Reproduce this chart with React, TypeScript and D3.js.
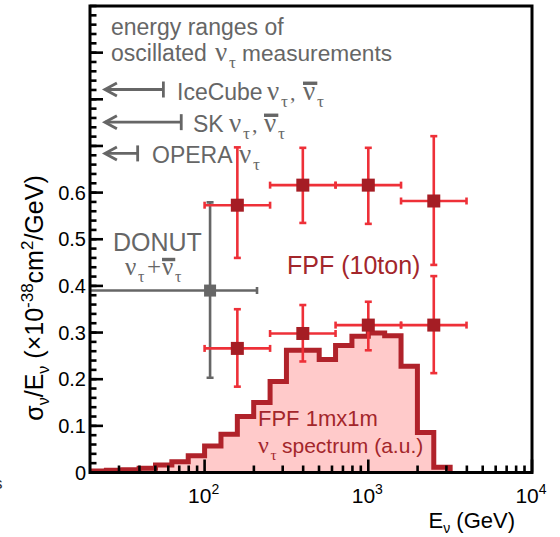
import React from "react";
import * as d3 from "d3";

// ---------- data ----------
// histogram bin edges (GeV) and bin heights (arb. units, drawn on same y axis)
const histEdges = [19.95, 25.12, 31.62, 39.81, 50.12, 63.1, 79.43, 100, 125.9, 158.5, 199.5, 251.2, 316.2, 398.1, 501.2, 631.0, 794.3, 1000, 1258.9, 1584.9, 1995.3, 2511.9, 3162.3];
const histValues = [0.003, 0.005, 0.006, 0.009, 0.016, 0.023, 0.036, 0.057, 0.082, 0.12, 0.15, 0.195, 0.262, 0.262, 0.242, 0.272, 0.292, 0.299, 0.293, 0.228, 0.086, 0.011];

// FPF (10ton) points
const fpfE = [158.5, 398.1, 1000, 2511.9];
const fpfELow = [100, 251.2, 631.0, 1584.9];
const fpfEHigh = [251.2, 631.0, 1584.9, 3981];
const fpfUpper = [0.573, 0.616, 0.616, 0.582];
const fpfUpperHi = [0.697, 0.696, 0.696, 0.721];
const fpfUpperLo = [0.46, 0.535, 0.533, 0.445];
const fpfLower = [0.266, 0.298, 0.316, 0.316];
const fpfLowerHi = [0.35, 0.359, 0.366, 0.421];
const fpfLowerLo = [0.184, 0.238, 0.262, 0.213];

// DONUT point
const donutE = [108];
const donutELow = [10];
const donutEHigh = [209];
const donutVal = [0.39];
const donutHi = [0.579];
const donutLo = [0.203];

// energy-range arrows (upper energy end, GeV; arrow tip energy)
const rangeNames = ["IceCube", "SK", "OPERA"];
const rangeMax = [56, 72, 39];
const rangeTip = [24.6, 24.6, 24.6];
const rangeRow = [0.821, 0.751, 0.684];

// axis ticks
const yTickValues = [0, 0.1, 0.2, 0.3, 0.4, 0.5, 0.6];
const yTickLabels = ["0", "0.1", "0.2", "0.3", "0.4", "0.5", "0.6"];
const yMajorUnlabeled = [0.7, 0.8, 0.9];
const xMajorValues = [100, 1000, 10000];
const xMajorExp = ["2", "3", "4"];

// ---------- layout ----------
const W = 560;
const H = 537;
const L = 90, R = 532, T = 6, B = 472.5;

const SANS = "'Liberation Sans', Arial, Helvetica, sans-serif";
const SERIF = "'Liberation Serif', 'Times New Roman', serif";
const GRAY = "#666666";
const RED = "#ee3038";
const DARKRED = "#a51d24";
const TXTRED = "#a3262b";

export default function App() {
  const x = d3.scaleLog().domain([19.95, 10000]).range([L, R]);
  const y = d3.scaleLinear().domain([0, 1]).range([B, T]);

  // histogram step path
  const pts: [number, number][] = [];
  pts.push([x(histEdges[0]), y(0)]);
  histValues.forEach((v, i) => {
    pts.push([x(histEdges[i]), y(v)]);
    pts.push([x(histEdges[i + 1]), y(v)]);
  });
  pts.push([x(histEdges[histEdges.length - 1]), y(0)]);
  const histLine = d3.line()(pts) as string;
  const histArea = histLine + "Z";

  const yMinor = d3.range(0, 1.0001, 0.02);
  const xMinor = x.ticks().filter((t) => !xMajorValues.includes(t) && t > 20);

  const errBar = (
    cx: number, cy: number, xl: number, xh: number, yl: number, yh: number,
    color: string, sq: string, size: number, key: string
  ) => {
    const cap = 3.5;
    return (
      <g key={key}>
        <line x1={x(xl)} x2={x(xh)} y1={y(cy)} y2={y(cy)} stroke={color} strokeWidth={2.6} />
        <line x1={x(cx)} x2={x(cx)} y1={y(yl)} y2={y(yh)} stroke={color} strokeWidth={2.6} />
        <line x1={x(xl)} x2={x(xl)} y1={y(cy) - cap} y2={y(cy) + cap} stroke={color} strokeWidth={2.6} />
        <line x1={x(xh)} x2={x(xh)} y1={y(cy) - cap} y2={y(cy) + cap} stroke={color} strokeWidth={2.6} />
        <line x1={x(cx) - cap} x2={x(cx) + cap} y1={y(yh)} y2={y(yh)} stroke={color} strokeWidth={2.6} />
        <line x1={x(cx) - cap} x2={x(cx) + cap} y1={y(yl)} y2={y(yl)} stroke={color} strokeWidth={2.6} />
        <rect x={x(cx) - size / 2} y={y(cy) - size / 2} width={size} height={size} fill={sq} />
      </g>
    );
  };

  // nu_tau / anti nu_tau helpers
  const nuTau = (xPos: number, base: number, key: string, bar = false, fill = GRAY, fs = 27) => (
    <g key={key}>
      <text x={xPos} y={base} fontFamily={SERIF} fontSize={fs} fill={fill}>ν</text>
      <text x={xPos + fs * 0.52} y={base + 7} fontFamily={SERIF} fontSize={fs * 0.64} fill={fill}>τ</text>
      {bar && <line x1={xPos} x2={xPos + fs * 0.53} y1={base - fs * 0.62} y2={base - fs * 0.62} stroke={fill} strokeWidth={3.4} />}
    </g>
  );

  return (
    <svg width={W} height={H} style={{ position: "absolute", left: 0, top: 0, background: "#fff" }}>
      <defs>
        <clipPath id="plot">
          <rect x={L} y={T} width={R - L} height={B - T} />
        </clipPath>
      </defs>

      {/* histogram */}
      <g clipPath="url(#plot)">
        <path d={histArea} fill="#ffcaca" stroke="none" />
        <path d={histLine} fill="none" stroke="#b0222a" strokeWidth={5} strokeLinejoin="miter" />
      </g>

      {/* histogram labels */}
      <text x={258} y={426} fontFamily={SANS} fontSize={22} fill={TXTRED}>FPF 1mx1m</text>
      {nuTau(258, 453, "spec", false, TXTRED, 24)}
      <text x={282} y={453} fontFamily={SANS} fontSize={21} fill={TXTRED}>spectrum (a.u.)</text>

      {/* DONUT */}
      <g clipPath="url(#plot)">
        {donutE.map((e, i) =>
          errBar(e, donutVal[i], donutELow[i], donutEHigh[i], donutLo[i], donutHi[i], GRAY, GRAY, 12, "d" + i)
        )}
      </g>

      {/* FPF points */}
      {fpfE.map((e, i) =>
        errBar(e, fpfUpper[i], fpfELow[i], fpfEHigh[i], fpfUpperLo[i], fpfUpperHi[i], RED, DARKRED, 13, "u" + i)
      )}
      {fpfE.map((e, i) =>
        errBar(e, fpfLower[i], fpfELow[i], fpfEHigh[i], fpfLowerLo[i], fpfLowerHi[i], RED, DARKRED, 13, "l" + i)
      )}

      {/* range arrows */}
      {rangeNames.map((n, i) => {
        const yy = y(rangeRow[i]);
        const x0 = x(rangeTip[i]);
        const x1 = x(rangeMax[i]);
        return (
          <g key={n} stroke={GRAY} strokeWidth={2.8} fill="none">
            <line x1={x0} x2={x1} y1={yy} y2={yy} />
            <line x1={x1} x2={x1} y1={yy - 8} y2={yy + 8} />
            <polyline points={`${x0 + 12},${yy - 6.5} ${x0},${yy} ${x0 + 12},${yy + 6.5}`} />
          </g>
        );
      })}

      {/* top text */}
      <text x={111} y={35} fontFamily={SANS} fontSize={23} fill={GRAY}>energy ranges of</text>
      <text x={111} y={61} fontFamily={SANS} fontSize={23} fill={GRAY}>oscillated</text>
      {nuTau(215, 61, "osc")}
      <text x={242} y={61} fontFamily={SANS} fontSize={22.7} fill={GRAY}>measurements</text>

      <text x={177} y={100} fontFamily={SANS} fontSize={23} fill={GRAY}>IceCube</text>
      {nuTau(267, 100, "ic1")}
      <text x={290} y={100} fontFamily={SERIF} fontSize={22} fill={GRAY}>,</text>
      {nuTau(303, 100, "ic2", true)}

      <text x={193} y={132} fontFamily={SANS} fontSize={23} fill={GRAY}>SK</text>
      {nuTau(229, 132, "sk1")}
      <text x={252} y={132} fontFamily={SERIF} fontSize={22} fill={GRAY}>,</text>
      {nuTau(264, 132, "sk2", true)}

      <text x={152} y={163} fontFamily={SANS} fontSize={23} fill={GRAY}>OPERA</text>
      {nuTau(239, 163, "op")}

      <text x={113} y={251} fontFamily={SANS} fontSize={25} fill={GRAY}>DONUT</text>
      {nuTau(125, 275, "dn1", false, GRAY, 25)}
      <text x={147} y={275} fontFamily={SERIF} fontSize={25} fill={GRAY}>+</text>
      {nuTau(162, 275, "dn2", true, GRAY, 25)}

      <text x={287} y={274} fontFamily={SANS} fontSize={25} fill={TXTRED}>FPF (10ton)</text>

      {/* axes: ticks */}
      <g stroke="#000" strokeWidth={2.6}>
        {yMinor.map((v) => (
          <line key={"ym" + v} x1={L} x2={L + 6.5} y1={y(v)} y2={y(v)} />
        ))}
        {[...yTickValues, ...yMajorUnlabeled].map((v) => (
          <line key={"yM" + v} x1={L} x2={L + 13} y1={y(v)} y2={y(v)} />
        ))}
        {xMinor.map((v) => (
          <line key={"xm" + v} x1={x(v)} x2={x(v)} y1={B} y2={B - 7} />
        ))}
        {xMajorValues.map((v) => (
          <line key={"xM" + v} x1={x(v)} x2={x(v)} y1={B} y2={B - 13} />
        ))}
      </g>

      {/* frame */}
      <rect x={L} y={T} width={R - L} height={B - T} fill="none" stroke="#000" strokeWidth={3} />

      {/* y tick labels */}
      {yTickValues.map((v, i) => (
        <text key={"yl" + v} x={86} y={y(v) + 7} textAnchor="end" fontFamily={SANS} fontSize={20} fill="#000">
          {yTickLabels[i]}
        </text>
      ))}

      {/* x tick labels */}
      {xMajorValues.map((v, i) => (
        <text key={"xl" + v} x={x(v) - 1} y={503} textAnchor="middle" fontFamily={SANS} fontSize={21} fill="#000">
          10
          <tspan dy={-9} fontSize={14}>{xMajorExp[i]}</tspan>
        </text>
      ))}

      {/* axis titles */}
      <text x={515} y={528} textAnchor="end" fontFamily={SANS} fontSize={22} fill="#000">
        E<tspan dy={5} fontSize={14}>ν</tspan>
        <tspan dy={-5}> (GeV)</tspan>
      </text>
      <text transform="translate(43,298) rotate(-90)" textAnchor="middle" fontFamily={SANS} fontSize={25} fill="#000">
        σ<tspan dy={6} fontSize={16}>ν</tspan>
        <tspan dy={-6}>/E</tspan>
        <tspan dy={6} fontSize={16}>ν</tspan>
        <tspan dy={-6}> (×10</tspan>
        <tspan dy={-10} fontSize={17}>-38</tspan>
        <tspan dy={10}>cm</tspan>
        <tspan dy={-10} fontSize={17}>2</tspan>
        <tspan dy={10}>/GeV)</tspan>
      </text>

      <text x={-6} y={489} fontFamily={SANS} fontSize={17} fill="#333">s</text>
    </svg>
  );
}
